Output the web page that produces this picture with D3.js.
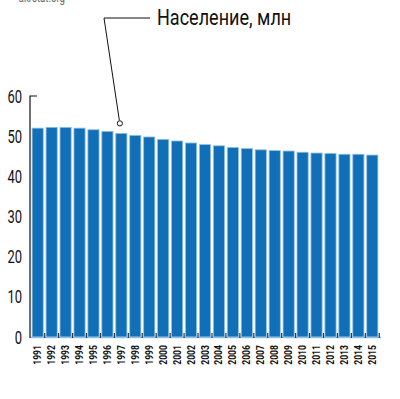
<!DOCTYPE html>
<html>
<head>
<meta charset="utf-8">
<script src="https://cdn.jsdelivr.net/npm/d3@7"></script>
<style>
  body{margin:0;background:#fff;}
  text{font-family:"Roboto","Liberation Sans",sans-serif;}
</style>
</head>
<body>
<div id="chart"></div>
<script>
// chart data
const years=['1991','1992','1993','1994','1995','1996','1997','1998','1999','2000','2001','2002','2003',
  '2004','2005','2006','2007','2008','2009','2010','2011','2012','2013','2014','2015'];
const population=[52.0,52.2,52.2,52.0,51.6,51.2,50.7,50.2,49.8,49.2,48.8,48.3,47.9,
  47.6,47.2,46.9,46.6,46.4,46.3,46.0,45.8,45.7,45.5,45.5,45.3];
const yTicks=[0,10,20,30,40,50,60];
const title='Население, млн';
const source='ukrstat.org';

let width=400,height=399;
let svg=d3.select('#chart').append('svg').attr('width',width).attr('height',height);

let x=d3.scaleBand().domain(years).range([31,379]).paddingInner(0.2).paddingOuter(0.08);
let y=d3.scaleLinear().domain([0,60]).range([337,96]);

// cut source line at top
svg.append('text').attr('transform','translate(65,2) scale(0.8,1)').attr('text-anchor','end')
  .attr('font-size',12).attr('fill','#666').text(source);

// bars
svg.selectAll('rect.bar').data(population).enter().append('rect')
  .attr('class','bar')
  .attr('x',(d,i)=>x(years[i]))
  .attr('y',d=>y(d))
  .attr('width',x.bandwidth())
  .attr('height',d=>y(0)-y(d))
  .attr('fill','#116fb7')
  .attr('stroke','#8fc0e6')
  .attr('stroke-width',0.8);

// baseline with small ticks between bars
svg.append('line').attr('x1',30).attr('x2',381).attr('y1',y(0)+0.5).attr('y2',y(0)+0.5)
  .attr('stroke','#8fc0e6').attr('stroke-width',1.5);
let step=x.step();
svg.selectAll('line.gap').data(years).enter().append('line')
  .attr('class','gap')
  .attr('x1',d=>x(d)+x.bandwidth()+step*x.paddingInner()/2)
  .attr('x2',d=>x(d)+x.bandwidth()+step*x.paddingInner()/2)
  .attr('y1',y(0)-4).attr('y2',y(0)+1)
  .attr('stroke','#333').attr('stroke-width',1.2);

// y axis
let yAxis=d3.axisLeft(y).tickValues(yTicks).tickSize(0).tickPadding(8);
let gy=svg.append('g').attr('transform','translate(30,0)').call(yAxis);
gy.select('.domain').remove();
gy.selectAll('.tick text')
  .attr('x',null).attr('dy',null)
  .attr('transform','translate(-8,6) scale(0.72,1)')
  .attr('font-size',18).attr('fill','#111')
  .attr('font-family','"Roboto",sans-serif');
svg.append('path').attr('d','M37,'+y(60)+'H30V'+(y(0)+1))
  .attr('fill','none').attr('stroke','#111').attr('stroke-width',1.2);

// x labels
svg.selectAll('text.year').data(years).enter().append('text')
  .attr('class','year')
  .attr('transform',d=>'translate('+(x(d)+x.bandwidth()/2+3.5)+',345) rotate(-90) scale(0.82,1)')
  .attr('text-anchor','end')
  .attr('font-size',10.5).attr('font-weight','bold').attr('fill','#111')
  .text(d=>d);

// annotation
let ax=x('1997')+x.bandwidth()/2-1.5;
let ay=y(population[6])-10;
svg.append('path').attr('d','M150,18H104L'+(ax-0.5)+','+(ay-3))
  .attr('fill','none').attr('stroke','#111').attr('stroke-width',1);
svg.append('circle').attr('cx',ax).attr('cy',ay).attr('r',2.6)
  .attr('fill','#fff').attr('stroke','#111').attr('stroke-width',1);
svg.append('text').attr('transform','translate(157,25) scale(0.82,1)')
  .attr('font-size',22).attr('fill','#111').text(title);
</script>
</body>
</html>
